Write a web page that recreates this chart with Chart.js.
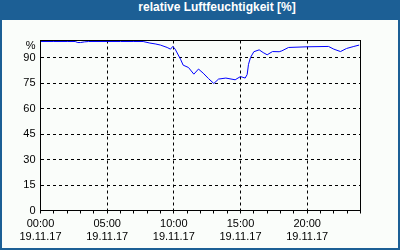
<!DOCTYPE html>
<html>
<head>
<meta charset="utf-8">
<script src="https://cdn.jsdelivr.net/npm/chart.js@4/dist/chart.umd.min.js"></script>
<style>
  body { margin: 0; }
  #frame { position: relative; width: 400px; height: 250px; background: #1c5f95; }
  #title { height: 20px; line-height: 20px; color: #fff; font: bold 12px "Liberation Sans", Arial, sans-serif; text-align: center; padding-left: 34px; }
  #inner { position: absolute; left: 2px; top: 20px; width: 396px; height: 228px; background: #fafdfa; }
  #myChart { position: absolute; left: 0; top: 0; }
</style>
</head>
<body>
<div id="frame">
  <div id="title">relative Luftfeuchtigkeit [%]</div>
  <div id="inner"></div>
  <canvas id="myChart" width="400" height="250"></canvas>
</div>
<script>
// hours since 00:00 on 19.11.17
const hours = [0, 1, 2, 2.6, 2.8, 3.0, 3.3, 3.6, 5, 6, 7, 7.7, 8.2, 8.6, 9.0, 9.5, 9.75, 9.92, 10.1,
  10.5, 10.7, 11.1, 11.5, 11.85, 12.2, 12.6, 13.0, 13.35, 13.9, 14.6, 15.0, 15.35, 15.5, 15.6,
  15.75, 16.0, 16.4, 16.7, 17.0, 17.4, 17.9, 18.1, 18.6, 20.0, 21.6, 22.0, 22.5, 22.95, 23.5, 23.9];
const humidity = [99.4, 99.4, 99.4, 99.4, 98.8, 98.8, 99.2, 99.4, 99.4, 99.4, 99.4, 99.4, 98.5, 98.0,
  97.3, 95.9, 94.9, 96.5, 94.9, 89, 85.5, 84.1, 80.2, 83.2, 80.8, 77.6, 74.7, 77.3, 77.9, 76.9,
  78.8, 77.9, 80, 86, 90, 93.4, 94.5, 92.9, 91.6, 93.5, 93.4, 93.9, 95.9, 96.3, 96.5, 94.9,
  93.5, 95.3, 96.5, 97.3];
const yTicks = [0, 15, 30, 45, 60, 75, 90];
const unitTick = 97; // where the "%" label sits
const dateLabel = "19.11.17";

const font = { family: "'Liberation Sans', Arial, sans-serif", size: 11 };

const boxPlugin = {
  id: "box",
  afterDraw(chart) {
    const { ctx, chartArea: a } = chart;
    ctx.save();
    ctx.strokeStyle = "#000";
    ctx.lineWidth = 1;
    ctx.strokeRect(a.left, a.top, a.right - a.left, a.bottom - a.top);
    ctx.restore();
  },
};

const ctx = document.getElementById("myChart");
const myChart = new Chart(ctx, {
  type: "line",
  data: {
    datasets: [
      {
        data: hours.map((h, i) => ({ x: h, y: humidity[i] })),
        borderColor: "#0000ff",
        borderWidth: 1,
        pointRadius: 0,
        tension: 0,
        fill: false,
      },
    ],
  },
  options: {
    responsive: false,
    animation: false,
    layout: { padding: { left: 0, top: 40.5, right: 39.5, bottom: 0 } },
    plugins: { legend: { display: false }, tooltip: { enabled: false } },
    scales: {
      x: {
        type: "linear",
        min: 0,
        max: 24,
        afterFit: (s) => { s.height = 39.5; },
        ticks: {
          stepSize: 1,
          autoSkip: false,
          maxRotation: 0,
          padding: 4,
          color: "#000",
          font: font,
          callback: (v) => (v % 5 === 0 ? [String(v).padStart(2, "0") + ":00", dateLabel] : ""),
        },
        grid: {
          color: (c) => (c.tick && c.tick.value % 5 === 0 ? "#000" : "rgba(0,0,0,0)"),
          tickColor: "#000",
          tickLength: 3,
        },
        border: { color: "#000", dash: [3, 3] },
      },
      y: {
        min: 0,
        max: 100,
        afterFit: (s) => { s.width = 40.5; },
        afterBuildTicks: (s) => {
          s.ticks = yTicks.concat([unitTick]).map((v) => ({ value: v }));
        },
        ticks: {
          padding: 5,
          color: "#000",
          font: font,
          callback: (v) => (v === unitTick ? "%" : v),
        },
        grid: {
          drawTicks: false,
          color: (c) => (c.tick && c.tick.value !== unitTick ? "#000" : "rgba(0,0,0,0)"),
        },
        border: { color: "#000", dash: [3, 3] },
      },
    },
  },
  plugins: [boxPlugin],
});
</script>
</body>
</html>
